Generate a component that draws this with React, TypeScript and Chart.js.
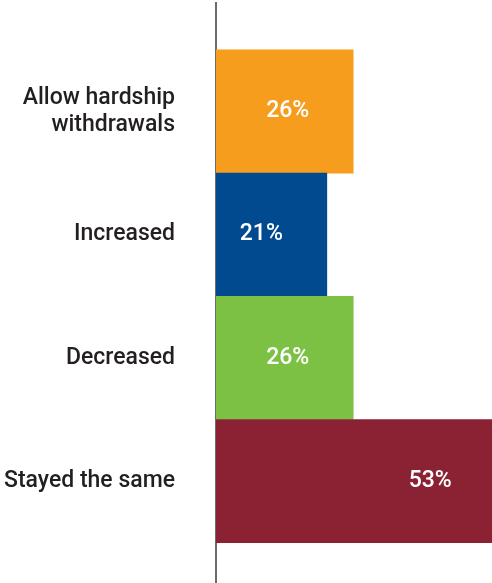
import React, { useEffect, useRef } from "react";
import { Chart, registerables } from "chart.js";

Chart.register(...registerables);

const categories: (string | string[])[] = [
  ["Allow hardship", "withdrawals"],
  "Increased",
  "Decreased",
  "Stayed the same",
];
const values: number[] = [26, 21, 26, 53];
const valueLabels: string[] = ["26%", "21%", "26%", "53%"];
const barColors: string[] = ["#F79D1E", "#024A90", "#7CC143", "#8A2234"];

const FONT = "Roboto, 'Liberation Sans', Arial, sans-serif";

const valueLabelPlugin = {
  id: "valueLabels",
  afterDatasetsDraw(chart: any) {
    const ctx = chart.ctx;
    const meta = chart.getDatasetMeta(0);
    ctx.save();
    ctx.fillStyle = "#ffffff";
    ctx.font = `500 23px ${FONT}`;
    ctx.textAlign = "center";
    ctx.textBaseline = "middle";
    meta.data.forEach((bar: any, i: number) => {
      ctx.fillText(valueLabels[i], bar.x - 65.5, bar.y);
    });
    ctx.restore();
  },
};

export default function App() {
  const canvasRef = useRef<HTMLCanvasElement | null>(null);

  useEffect(() => {
    document.body.style.margin = "0";
    const canvas = canvasRef.current;
    if (!canvas) return;
    const chart = new Chart(canvas, {
      type: "bar",
      data: {
        datasets: [
          {
            data: values.map((v, i) => ({ x: v, y: i })),
            backgroundColor: barColors,
            borderWidth: 0,
            categoryPercentage: 1,
            barPercentage: 1,
          },
        ],
      },
      options: {
        indexAxis: "y",
        animation: false,
        responsive: false,
        maintainAspectRatio: false,
        layout: { padding: { top: 3, right: 0, bottom: 0, left: 0 } },
        plugins: {
          legend: { display: false },
          tooltip: { enabled: false },
        },
        scales: {
          x: {
            type: "linear",
            display: false,
            min: 0,
            max: 52.3,
          },
          y: {
            type: "linear",
            reverse: true,
            offset: false,
            min: -0.881,
            max: 3.827,
            grid: { display: false, drawTicks: false, offset: false },
            border: { display: true, color: "#6b6b6b", width: 2 },
            afterBuildTicks: (scale: any) => {
              scale.ticks = categories.map((_, i) => ({ value: i }));
            },
            afterFit: (scale: any) => {
              scale.width = 216;
              scale.paddingTop = 0;
              scale.paddingBottom = 0;
            },
            ticks: {
              padding: 41,
              color: "#231f20",
              font: { family: FONT, size: 23, weight: 500, lineHeight: 1.15 },
              callback: (value: any) => categories[value as number] ?? "",
            },
          },
        },
      },
      plugins: [valueLabelPlugin],
    } as any);
    return () => chart.destroy();
  }, []);

  return (
    <div style={{ width: 492, height: 583 }}>
      <canvas ref={canvasRef} width={492} height={583} style={{ display: "block" }} />
    </div>
  );
}
